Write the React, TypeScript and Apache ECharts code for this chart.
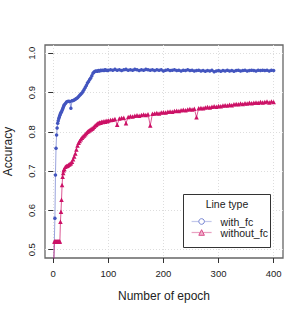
import React, { useEffect, useRef } from "react";
import * as echarts from "echarts";

const epochs = [
  1, 2, 3, 4, 5, 6, 7, 8, 9, 10, 11, 12, 13, 14, 15, 16, 17, 18, 19, 20,
  22, 24, 26, 28, 30, 32, 34, 36, 38, 40, 42, 44, 46, 48, 50, 52, 54, 56, 58, 60,
  62, 64, 66, 68, 70, 72, 74, 76, 78, 80, 82, 84, 86, 88, 90, 92, 94, 96, 98, 100,
  104, 108, 112, 116, 120, 124, 128, 132, 136, 140, 144, 148, 152, 156, 160, 164, 168, 172, 176, 180,
  184, 188, 192, 196, 200, 204, 208, 212, 216, 220, 224, 228, 232, 236, 240, 244, 248, 252, 256, 260,
  264, 268, 272, 276, 280, 284, 288, 292, 296, 300, 304, 308, 312, 316, 320, 324, 328, 332, 336, 340,
  344, 348, 352, 356, 360, 364, 368, 372, 376, 380, 384, 388, 392, 396, 400,
];

const withFc = [
  0.47, 0.47, 0.58, 0.69, 0.758, 0.792, 0.81, 0.822, 0.828, 0.834, 0.838, 0.842, 0.846, 0.849, 0.851, 0.855, 0.858, 0.862, 0.866, 0.869,
  0.872, 0.876, 0.877, 0.878, 0.877, 0.86, 0.879, 0.88, 0.881, 0.883, 0.885, 0.887, 0.89, 0.893, 0.896, 0.899, 0.903, 0.908, 0.913, 0.918,
  0.924, 0.928, 0.933, 0.937, 0.943, 0.949, 0.952, 0.954, 0.955, 0.954, 0.956, 0.955, 0.957, 0.956, 0.957, 0.956, 0.958, 0.957, 0.956, 0.957,
  0.958, 0.957, 0.959, 0.957, 0.958, 0.956, 0.958, 0.959, 0.957, 0.958, 0.957, 0.959, 0.958, 0.956, 0.958, 0.957, 0.959, 0.958, 0.957, 0.958,
  0.956, 0.958, 0.957, 0.958, 0.955, 0.957, 0.958, 0.956, 0.957, 0.958, 0.956, 0.957, 0.955, 0.957, 0.956, 0.958, 0.956, 0.957, 0.955, 0.956,
  0.957, 0.955, 0.956, 0.954, 0.956, 0.955, 0.957, 0.953, 0.955, 0.956, 0.954, 0.956, 0.955, 0.957, 0.955, 0.956, 0.954, 0.956, 0.957, 0.955,
  0.956, 0.957, 0.955, 0.956, 0.957, 0.956, 0.955, 0.957, 0.956, 0.957, 0.956, 0.957, 0.955, 0.957, 0.956,
];

const withoutFc = [
  0.47, 0.521, 0.521, 0.521, 0.521, 0.521, 0.521, 0.521, 0.521, 0.521, 0.521, 0.521, 0.571, 0.597, 0.627, 0.665, 0.686, 0.695, 0.702, 0.706,
  0.711, 0.713, 0.714, 0.716, 0.718, 0.72, 0.724, 0.73, 0.737, 0.745, 0.755, 0.765, 0.772, 0.777, 0.781, 0.785, 0.788, 0.791, 0.794, 0.797,
  0.8, 0.802, 0.804, 0.806, 0.808, 0.81, 0.813, 0.816, 0.818, 0.821, 0.822, 0.824, 0.823, 0.826, 0.825, 0.827, 0.826, 0.828, 0.827, 0.829,
  0.83, 0.831, 0.833, 0.818, 0.834, 0.835, 0.836, 0.822, 0.838, 0.84, 0.839, 0.841, 0.842, 0.841, 0.843, 0.844, 0.843, 0.845, 0.816, 0.846,
  0.847, 0.848, 0.847, 0.849, 0.85, 0.849, 0.851, 0.852, 0.851, 0.853, 0.854, 0.853, 0.855, 0.856, 0.855, 0.857, 0.858, 0.857, 0.859, 0.837,
  0.86, 0.861, 0.86, 0.862, 0.863, 0.862, 0.864, 0.865, 0.864, 0.866, 0.865, 0.867, 0.868, 0.867, 0.869, 0.868, 0.87, 0.871, 0.87, 0.872,
  0.871, 0.873, 0.872, 0.874, 0.873, 0.874, 0.875, 0.874, 0.876, 0.875, 0.876, 0.877, 0.875, 0.877, 0.876,
];

const xTicks = [0, 100, 200, 300, 400];
const yTicks = [0.5, 0.6, 0.7, 0.8, 0.9, 1.0];

const BLUE = "#4355bf";
const PINK = "#cc1166";
const FONT = "Liberation Sans";

export default function App() {
  const ref = useRef<HTMLDivElement>(null);
  useEffect(() => {
    if (!ref.current) return;
    const chart = echarts.init(ref.current, null, { renderer: "svg" });
    const pairs = (vals: number[]) => epochs.map((e, i) => [e, vals[i]]);
    chart.setOption({
      animation: false,
      backgroundColor: "#fff",
      grid: {
        left: 45,
        top: 45,
        right: 22,
        bottom: 56,
        outerBoundsMode: "none",
        containLabel: false,
        show: true,
        borderColor: "#666",
        borderWidth: 1.3,
      },
      xAxis: {
        type: "value",
        min: -15,
        max: 417,
        name: "Number of epoch",
        nameLocation: "middle",
        nameGap: 32,
        nameTextStyle: { fontFamily: FONT, fontSize: 12, color: "#222" },
        axisLine: { show: false },
        axisTick: {
          show: true,
          length: 5,
          inside: false,
          customValues: xTicks,
          lineStyle: { color: "#333" },
        },
        axisLabel: {
          customValues: xTicks,
          margin: 10,
          fontFamily: FONT,
          fontSize: 9.5,
          color: "#222",
        },
        splitLine: {
          show: true,
          lineStyle: { color: "#ddd", type: [1, 2], width: 1 },
        },
      },
      yAxis: {
        type: "value",
        min: 0.479,
        max: 1.021,
        name: "Accuracy",
        nameLocation: "middle",
        nameGap: 31,
        nameRotate: 90,
        nameTextStyle: { fontFamily: FONT, fontSize: 12, color: "#222" },
        axisLine: { show: false },
        axisTick: {
          show: true,
          length: 5,
          customValues: yTicks,
          lineStyle: { color: "#333" },
        },
        axisLabel: {
          customValues: yTicks,
          rotate: 90,
          margin: 9,
          fontFamily: FONT,
          fontSize: 9.5,
          color: "#222",
          formatter: (v: number) => v.toFixed(1),
        },
        splitLine: {
          show: true,
          lineStyle: { color: "#ddd", type: [1, 2], width: 1 },
        },
      },
      legend: {
        orient: "vertical",
        left: 186,
        top: 211,
        itemWidth: 20,
        itemHeight: 7,
        itemGap: 0,
        textStyle: {
          fontFamily: FONT,
          fontSize: 10.5,
          color: "#222",
          padding: [0, 0, 0, 4],
        },
        data: [
          {
            name: "with_fc",
            itemStyle: { color: "#fff", borderColor: "#7785d3", borderWidth: 1 },
            lineStyle: { color: "#8f9bdb", width: 1.2 },
          },
          {
            name: "without_fc",
            itemStyle: { color: "#f1b3cc", borderColor: "#d94d8a", borderWidth: 1 },
            lineStyle: { color: "#e07aa8", width: 1.2 },
          },
        ],
      },
      graphic: [
        {
          type: "rect",
          z: 3,
          shape: { x: 183.5, y: 194.5, width: 87, height: 53 },
          style: { fill: "#fff", stroke: "#333", lineWidth: 1 },
        },
        {
          type: "text",
          z: 5,
          x: 227,
          y: 204,
          style: {
            text: "Line type",
            fontFamily: FONT,
            fontSize: 10.5,
            fill: "#222",
            align: "center",
            verticalAlign: "middle",
          },
        },
      ],
      series: [
        {
          name: "with_fc",
          type: "line",
          data: pairs(withFc),
          symbol: "circle",
          symbolSize: 3.5,
          showAllSymbol: true,
          itemStyle: { color: BLUE },
          lineStyle: { color: BLUE, width: 1, opacity: 0.55 },
        },
        {
          name: "without_fc",
          type: "line",
          data: pairs(withoutFc),
          symbol: "triangle",
          symbolSize: 4.5,
          showAllSymbol: true,
          itemStyle: { color: PINK },
          lineStyle: { color: PINK, width: 1, opacity: 0.7 },
        },
      ],
    });
    return () => chart.dispose();
  }, []);
  return (
    <div
      ref={ref}
      style={{ position: "fixed", left: 0, top: 0, width: 305, height: 314 }}
    />
  );
}
